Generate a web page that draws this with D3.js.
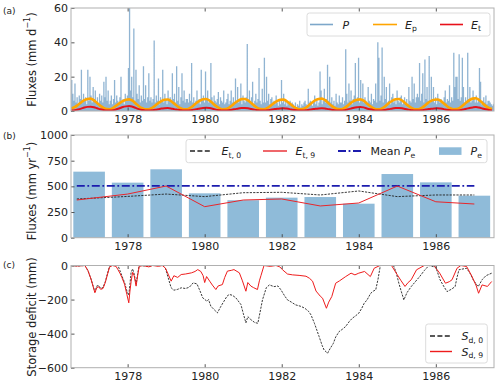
<!DOCTYPE html>
<html><head><meta charset="utf-8">
<script src="https://cdn.jsdelivr.net/npm/d3@7"></script>
<style>body{margin:0;background:#fff} svg{display:block;font-family:"DejaVu Sans",sans-serif}</style>
</head><body><svg id="chart" width="500" height="387"></svg>
<script>
// ---------- DATA ----------
const xTickYears = [1978, 1980, 1982, 1984, 1986];
const yTicksA = [0, 20, 40, 60];
const yTicksB = [0, 250, 500, 750, 1000];
const yTicksC = [0, -200, -400, -600];

// Daily precipitation, sampled every 1/36 year starting 1976.55 (mm/d)
const pStart = 1976.55;
const pValues = [
 18,10,6,16,5,8,4,9,7,24,5,10,6,8,4,24,6,20,9,5,14,7,12,5,8,4,10,6,9,5,17,8,20,6,12,4,
 6,9,4,7,18,5,9,6,4,8,20,5,7,4,10,6,9,25,60,12,20,8,48,6,24,10,7,15,5,9,6,26,7,15,5,8,
 22,6,8,5,7,41,5,9,6,19,4,8,6,24,5,10,7,4,12,6,8,5,22,7,10,5,26,6,14,4,8,22,6,12,5,7,
 7,5,10,6,28,5,8,4,6,12,5,7,4,24,6,9,5,23,7,12,5,6,28,8,4,9,6,5,7,11,4,8,6,5,12,4,
 5,7,10,4,6,12,5,8,4,19,6,14,5,7,16,4,9,6,5,8,39,6,12,5,8,17,4,6,10,5,7,25,6,4,13,5,
 31,5,20,6,10,4,7,8,5,6,4,9,5,3,6,4,18,5,10,4,6,3,5,4,6,3,5,4,3,5,2,4,3,6,2,4,
 3,5,6,4,3,13,5,6,4,3,5,9,4,6,3,5,23,12,4,6,13,5,7,27,6,20,5,8,4,6,3,10,5,4,9,5,
 5,8,4,6,36,10,5,16,6,12,4,7,9,28,6,8,31,5,18,7,16,5,8,6,4,14,6,5,10,4,7,6,16,5,40,31,
 6,9,37,5,20,7,14,5,6,16,4,8,10,5,7,4,12,6,5,8,9,4,6,8,5,7,4,14,6,5,20,7,16,5,8,10,
 8,28,6,10,22,5,30,7,14,6,32,5,20,7,14,5,8,4,10,6,5,7,6,4,8,12,5,7,6,15,5,8,6,34,14,20,
 20,7,33,6,8,31,14,5,8,6,34,7,14,5,6,12,8,5,9,5,6,25,17,4,6,8,5,9,4,6,6,5,4,3,4,5
];

// Monthly potential evaporation Ep (mm/d), Jul 1976 .. Jun 1987
const epStart = 1976.5;
const epValues = [
 1.5,2.2,3.5,5.0,6.3,7.0,7.2,6.2,4.6,3.0,1.8,1.1,
 1.0,1.8,3.2,4.6,5.8,6.6,6.8,6.0,4.4,2.8,1.6,1.0,
 1.0,1.7,3.0,4.5,5.8,6.5,6.7,5.8,4.3,2.8,1.6,1.0,
 1.0,1.8,3.2,4.8,6.0,6.8,7.0,6.1,4.5,2.9,1.7,1.0,
 1.1,1.8,3.2,4.8,6.1,6.9,7.0,6.2,4.6,3.0,1.7,1.1,
 1.0,1.7,3.0,4.5,5.8,6.5,6.6,5.8,4.3,2.8,1.6,1.0,
 1.1,1.9,3.4,5.0,6.3,7.0,7.2,6.3,4.7,3.0,1.8,1.1,
 1.0,1.7,3.0,4.6,5.9,6.6,6.8,6.0,4.4,2.9,1.6,1.0,
 1.0,1.8,3.2,4.8,6.1,6.8,7.0,6.1,4.5,2.9,1.7,1.0,
 1.0,1.7,3.0,4.6,5.9,6.6,6.7,5.9,4.4,2.8,1.6,1.0,
 1.1,1.9,3.4,5.0,6.4,7.2,7.4,6.4,4.7,3.0,1.8,1.1
];
// Monthly transpiration Et (mm/d)
const etValues = [
 0.3,0.5,0.9,1.4,2.0,2.4,2.5,2.2,1.6,1.0,0.6,0.3,
 0.3,0.5,1.0,1.6,2.3,2.7,2.9,2.5,1.8,1.1,0.6,0.3,
 0.3,0.4,0.7,1.0,1.4,1.6,1.7,1.5,1.1,0.8,0.5,0.3,
 0.3,0.4,0.8,1.1,1.5,1.8,1.9,1.7,1.3,0.8,0.5,0.3,
 0.3,0.4,0.7,1.1,1.5,1.7,1.8,1.6,1.2,0.8,0.5,0.3,
 0.3,0.4,0.7,1.0,1.3,1.5,1.6,1.4,1.1,0.7,0.4,0.3,
 0.3,0.4,0.7,1.0,1.3,1.5,1.6,1.5,1.1,0.7,0.4,0.3,
 0.3,0.5,0.9,1.4,1.9,2.2,2.4,2.1,1.5,1.0,0.6,0.3,
 0.3,0.4,0.7,1.1,1.5,1.7,1.8,1.6,1.2,0.8,0.5,0.3,
 0.3,0.4,0.7,1.0,1.3,1.5,1.6,1.4,1.1,0.7,0.4,0.3,
 0.3,0.5,0.9,1.3,1.8,2.1,2.3,2.0,1.5,1.0,0.6,0.3
];

// Annual values (mm/yr)
const barYears = [1977,1978,1979,1980,1981,1982,1983,1984,1985,1986,1987];
const peValues = [643,536,666,432,365,390,396,331,620,539,409];
const lineYears = [1976.68,1978,1979,1980,1981,1982,1983,1984,1985,1986,1987];
const et0Values = [377,402,425,400,438,442,416,455,400,416,416];
const et9Values = [367,425,503,302,367,377,309,338,503,350,328];
const meanPe = 505;

// Storage deficit (mm)
const sd9Years = [1976.54,1976.7,1976.89,1976.97,1977.05,1977.15,1977.2,1977.25,1977.3,1977.36,1977.42,1977.48,1977.53,1977.6,1977.7,1977.75,1977.8,1977.85,1977.92,1977.98,1978.03,1978.06,1978.09,1978.13,1978.17,1978.22,1978.26,1978.3,1978.4,1978.55,1978.65,1978.8,1978.9,1978.98,1979.05,1979.13,1979.2,1979.3,1979.39,1979.5,1979.66,1979.75,1979.82,1979.9,1979.96,1980.0,1980.05,1980.13,1980.2,1980.29,1980.35,1980.46,1980.52,1980.59,1980.7,1980.76,1980.9,1980.98,1981.07,1981.12,1981.2,1981.27,1981.37,1981.42,1981.46,1981.54,1981.7,1981.85,1981.95,1982.02,1982.15,1982.28,1982.45,1982.63,1982.72,1982.8,1982.89,1983.0,1983.06,1983.16,1983.22,1983.3,1983.4,1983.5,1983.66,1983.8,1983.9,1984.0,1984.15,1984.3,1984.4,1984.55,1984.85,1985.0,1985.1,1985.2,1985.28,1985.36,1985.5,1985.7,1985.95,1986.1,1986.25,1986.35,1986.42,1986.55,1986.65,1986.8,1986.94,1987.05,1987.11,1987.2,1987.34,1987.45];
const sd9Values = [0,-3,0,-30,-80,-160,-130,-125,-140,-135,-100,-50,-10,0,-5,-25,-45,-70,-110,-170,-219,-150,-95,-40,-60,-121,-60,-5,0,-8,0,-5,0,-15,-50,-92,-60,-70,-53,-50,-43,-35,-24,-35,-60,-100,-65,-92,-115,-141,-120,-112,-70,-33,-28,-24,-43,-90,-151,-100,-121,-130,-141,-90,-60,0,-5,0,-8,-25,-50,-55,-58,-63,-75,-92,-150,-180,-192,-251,-215,-182,-104,-90,-65,-45,-55,-45,-35,-65,-16,0,0,-55,-90,-123,-100,-84,-25,0,0,-45,-104,-95,-84,-16,0,-6,-65,-120,-163,-114,-123,-94];
const sd0Years = [1976.54,1976.7,1976.89,1976.97,1977.05,1977.15,1977.2,1977.25,1977.3,1977.36,1977.42,1977.48,1977.53,1977.6,1977.75,1977.8,1977.85,1977.92,1977.98,1978.03,1978.06,1978.09,1978.13,1978.17,1978.22,1978.26,1978.3,1978.55,1978.65,1978.9,1978.98,1979.05,1979.13,1979.2,1979.3,1979.39,1979.5,1979.6,1979.7,1979.8,1979.88,1979.95,1980.06,1980.1,1980.16,1980.25,1980.33,1980.42,1980.5,1980.58,1980.64,1980.72,1980.81,1980.94,1981.0,1981.07,1981.12,1981.2,1981.3,1981.38,1981.45,1981.5,1981.6,1981.68,1981.8,1981.9,1981.98,1982.08,1982.15,1982.25,1982.36,1982.5,1982.6,1982.7,1982.76,1982.85,1982.97,1983.05,1983.1,1983.19,1983.25,1983.34,1983.4,1983.49,1983.57,1983.66,1983.75,1983.83,1983.92,1984.0,1984.08,1984.14,1984.22,1984.31,1984.38,1984.44,1984.5,1984.56,1984.9,1984.97,1985.04,1985.1,1985.17,1985.25,1985.36,1985.45,1985.58,1985.7,1985.82,1986.0,1986.11,1986.2,1986.29,1986.4,1986.5,1986.55,1986.6,1986.8,1986.9,1986.97,1987.05,1987.1,1987.2,1987.3,1987.45];
const sd0Values = [0,-3,0,-30,-80,-155,-120,-118,-135,-130,-95,-45,-5,0,0,-30,-60,-100,-150,-175,-110,-40,-20,-50,-110,-50,0,-5,0,0,-15,-70,-131,-145,-140,-131,-135,-128,-102,-108,-150,-190,-210,-200,-239,-260,-278,-240,-210,-180,-170,-175,-190,-229,-280,-337,-300,-318,-335,-339,-260,-202,-130,-114,-124,-120,-143,-180,-202,-215,-231,-240,-251,-270,-290,-340,-417,-470,-496,-515,-490,-457,-420,-388,-375,-358,-330,-310,-295,-280,-250,-222,-200,-163,-150,-143,-80,0,0,-40,-104,-150,-202,-160,-124,-100,-65,-30,0,-10,-84,-120,-153,-140,-124,-70,-25,-16,-50,-84,-110,-124,-84,-60,-45];

// ---------- LAYOUT ----------
const svg = d3.select("#chart");
const L = 71, R = 494;
const x = d3.scaleLinear().domain([1976.53, 1987.51]).range([L, R]);
const PA = {top: 8, bot: 111}, PB = {top: 135, bot: 237.7}, PC = {top: 265.5, bot: 367.7};
const yA = d3.scaleLinear().domain([0, 60]).range([PA.bot, PA.top]);
const yB = d3.scaleLinear().domain([0, 1000]).range([PB.bot, PB.top]);
const yC = d3.scaleLinear().domain([-600, 0]).range([PC.bot, PC.top]);

const defs = svg.append("defs");
function clip(id, p) {
  defs.append("clipPath").attr("id", id).append("rect")
    .attr("x", L).attr("y", p.top).attr("width", R - L).attr("height", p.bot - p.top);
  return svg.append("g").attr("clip-path", `url(#${id})`);
}

function frame(p, y, ticks) {
  const g = svg.append("g");
  g.append("g").attr("transform", `translate(0,${p.bot})`)
    .call(d3.axisBottom(x).tickValues(xTickYears).tickFormat(d3.format("d")).tickSize(-3.5).tickPadding(4.5));
  g.append("g").attr("transform", `translate(0,${p.top})`)
    .call(d3.axisTop(x).tickValues(xTickYears).tickFormat(() => "").tickSize(-3.5));
  g.append("g").attr("transform", `translate(${L},0)`)
    .call(d3.axisLeft(y).tickValues(ticks).tickFormat(d3.format("d")).tickSize(-3.5).tickPadding(3));
  g.selectAll(".domain").remove();
  g.selectAll(".tick line").attr("stroke", "#444").attr("stroke-width", 0.9);
  g.selectAll(".tick text").attr("font-size", 11).attr("fill", "#222")
    .attr("font-family", "DejaVu Sans, sans-serif");
  g.append("rect").attr("x", L).attr("y", p.top).attr("width", R - L).attr("height", p.bot - p.top)
    .attr("fill", "none").attr("stroke", "#b0b0b0").attr("stroke-width", 1);
}

function ylabel(cy, parts) {
  const t = svg.append("text").attr("transform", `translate(31.5,${cy}) rotate(-90)`)
    .attr("text-anchor", "middle").attr("dominant-baseline", "central")
    .attr("font-size", 11.5).attr("fill", "#222");
  parts.forEach(pt => {
    const s = t.append("tspan").text(pt.t);
    if (pt.sup) s.attr("font-size", 8).attr("dy", -4.5);
    if (pt.after) s.attr("dy", 4.5);
  });
}

function mathText(g, xx, yy, base, sub, prefix) {
  const t = g.append("text").attr("x", xx).attr("y", yy).attr("font-size", 11).attr("fill", "#222");
  if (prefix) t.append("tspan").text(prefix);
  t.append("tspan").attr("font-style", "italic").text(base);
  if (sub) {
    t.append("tspan").attr("font-size", 7.7).attr("dy", 2.6).text(sub);
  }
  return t;
}

function legendBox(xx, yy, w, h) {
  svg.append("rect").attr("x", xx).attr("y", yy).attr("width", w).attr("height", h).attr("rx", 2.5)
    .attr("fill", "#fff").attr("fill-opacity", 0.85).attr("stroke", "#dcdcdc").attr("stroke-width", 1);
}

// ---------- PANEL A ----------
const ga = clip("ca", PA);
const pPath = pValues.map((v, i) => {
  const xx = x(pStart + i / 36);
  return `M${xx},${yA(0)}V${yA(v)}`;
}).join("");
ga.append("path").attr("d", pPath).attr("stroke", "#4682b4").attr("stroke-opacity", 0.6)
  .attr("stroke-width", 1.3).attr("fill", "none");
const monthT = i => epStart + (i + 0.5) / 12;
const lineA = vals => d3.line().x((d, i) => x(monthT(i))).y(d => yA(d)).curve(d3.curveMonotoneX)(vals);
ga.append("path").attr("d", lineA(epValues)).attr("stroke", "#ffa500").attr("stroke-width", 2.6).attr("fill", "none");
ga.append("path").attr("d", lineA(etValues)).attr("stroke", "#e8101a").attr("stroke-width", 2).attr("fill", "none");
frame(PA, yA, yTicksA);
ylabel((PA.top + PA.bot) / 2, [{t: "Fluxes (mm d"}, {t: "\u22121", sup: true}, {t: ")", after: true}]);

legendBox(307, 13, 183, 23);
const lgA = svg.append("g");
lgA.append("line").attr("x1", 310).attr("x2", 333).attr("y1", 24.5).attr("y2", 24.5).attr("stroke", "#4682b4").attr("stroke-opacity", 0.7).attr("stroke-width", 1.6);
mathText(lgA, 342.5, 28.5, "P");
lgA.append("line").attr("x1", 373).attr("x2", 397).attr("y1", 24.5).attr("y2", 24.5).attr("stroke", "#ffa500").attr("stroke-width", 1.6);
mathText(lgA, 405, 28.5, "E", "p");
lgA.append("line").attr("x1", 440).attr("x2", 463).attr("y1", 24.5).attr("y2", 24.5).attr("stroke", "#e8101a").attr("stroke-width", 1.6);
mathText(lgA, 471, 28.5, "E", "t");

// ---------- PANEL B ----------
const gb = clip("cb", PB);
const bw = 0.41;
gb.selectAll("rect.bar").data(barYears).enter().append("rect").attr("class", "bar")
  .attr("x", d => x(d - bw)).attr("width", d => x(d + bw) - x(d - bw))
  .attr("y", (d, i) => yB(peValues[i])).attr("height", (d, i) => yB(0) - yB(peValues[i]))
  .attr("fill", "#1f77b4").attr("fill-opacity", 0.5);
gb.append("line").attr("x1", x(lineYears[0])).attr("x2", x(lineYears[lineYears.length - 1]))
  .attr("y1", yB(meanPe)).attr("y2", yB(meanPe)).attr("stroke", "#1c1cae").attr("stroke-width", 1.8)
  .attr("stroke-dasharray", "8,2.6,1.8,2.6");
const lineB = vals => d3.line().x((d, i) => x(lineYears[i])).y(d => yB(d))(vals);
gb.append("path").attr("d", lineB(et0Values)).attr("stroke", "#222").attr("stroke-width", 0.9)
  .attr("stroke-dasharray", "2.2,1.2").attr("fill", "none");
gb.append("path").attr("d", lineB(et9Values)).attr("stroke", "#e8262b").attr("stroke-width", 1)
  .attr("fill", "none");
frame(PB, yB, yTicksB);
ylabel(191, [{t: "Fluxes (mm yr"}, {t: "\u22121", sup: true}, {t: ")", after: true}]);

legendBox(186, 139.5, 301, 23.2);
const lgB = svg.append("g");
lgB.append("line").attr("x1", 190).attr("x2", 211).attr("y1", 151).attr("y2", 151).attr("stroke", "#222").attr("stroke-width", 1.4).attr("stroke-dasharray", "5,2.4");
mathText(lgB, 221.5, 155, "E", "t, 0");
lgB.append("line").attr("x1", 263).attr("x2", 287).attr("y1", 151).attr("y2", 151).attr("stroke", "#e8262b").attr("stroke-width", 1.4);
mathText(lgB, 295.5, 155, "E", "t, 9");
lgB.append("line").attr("x1", 338).attr("x2", 362).attr("y1", 151).attr("y2", 151).attr("stroke", "#1c1cae").attr("stroke-width", 1.8).attr("stroke-dasharray", "8,2.6,1.8,2.6");
mathText(lgB, 370.5, 155, "P", "e", "Mean ");
lgB.append("rect").attr("x", 439).attr("y", 147.3).attr("width", 22.5).attr("height", 7.6).attr("fill", "#1f77b4").attr("fill-opacity", 0.5);
mathText(lgB, 470.5, 155, "P", "e");

// ---------- PANEL C ----------
const gc = clip("cc", PC);
const lineC = (ys, vs) => d3.line().x((d, i) => x(ys[i])).y(d => yC(d))(vs);
gc.append("path").attr("d", lineC(sd0Years, sd0Values)).attr("stroke", "#222").attr("stroke-width", 0.9)
  .attr("stroke-dasharray", "2.2,1.2").attr("fill", "none");
gc.append("path").attr("d", lineC(sd9Years, sd9Values)).attr("stroke", "#ee1c1c").attr("stroke-width", 1)
  .attr("fill", "none");
frame(PC, yC, yTicksC);
ylabel(317, [{t: "Storage deficit (mm)"}]);

legendBox(425.7, 324, 61.6, 39);
const lgC = svg.append("g");
lgC.append("line").attr("x1", 430).attr("x2", 452).attr("y1", 336).attr("y2", 336).attr("stroke", "#222").attr("stroke-width", 1.4).attr("stroke-dasharray", "5,2.4");
mathText(lgC, 461.5, 340, "S", "d, 0");
lgC.append("line").attr("x1", 430).attr("x2", 452).attr("y1", 351.5).attr("y2", 351.5).attr("stroke", "#ee1c1c").attr("stroke-width", 1.4);
mathText(lgC, 461.5, 355.5, "S", "d, 9");

// panel letters
[["(a)", 14], ["(b)", 139], ["(c)", 268]].forEach(([t, yy]) =>
  svg.append("text").attr("x", 3).attr("y", yy).attr("font-size", 9).attr("fill", "#222").text(t));
</script></body></html>
